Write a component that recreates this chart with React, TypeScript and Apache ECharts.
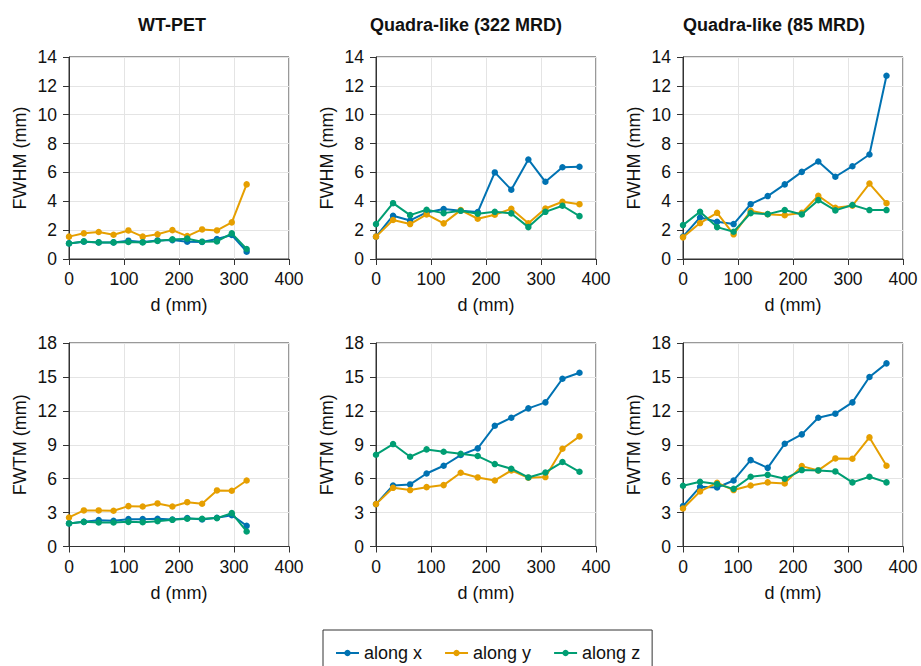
import React, { useEffect, useRef } from "react";
import * as echarts from "echarts";

// distances along the axis (mm)
const dWT = [0, 27, 54, 81, 108, 134, 161, 188, 215, 242, 269, 296, 323];
const dQ = [0, 31, 62, 92, 123, 154, 185, 216, 246, 277, 308, 339, 370];

const xTicks = [0, 100, 200, 300, 400];
const fwhmTicks = [0, 2, 4, 6, 8, 10, 12, 14];
const fwtmTicks = [0, 3, 6, 9, 12, 15, 18];

const panelTitles = ["WT-PET", "Quadra-like (322 MRD)", "Quadra-like (85 MRD)"];
const seriesNames = ["along x", "along y", "along z"];

// FWHM, WT-PET
const fwhmWT_x = [1.08, 1.2, 1.15, 1.15, 1.27, 1.18, 1.29, 1.31, 1.2, 1.18, 1.38, 1.66, 0.51];
const fwhmWT_y = [1.55, 1.78, 1.87, 1.68, 1.98, 1.55, 1.71, 2.0, 1.59, 2.05, 1.98, 2.54, 5.17];
const fwhmWT_z = [1.08, 1.22, 1.15, 1.15, 1.18, 1.15, 1.25, 1.36, 1.41, 1.2, 1.22, 1.78, 0.69];

// FWHM, Quadra-like 322 MRD
const fwhmQ322_x = [1.55, 3.0, 2.67, 3.23, 3.46, 3.34, 3.25, 6.0, 4.8, 6.9, 5.35, 6.36, 6.39];
const fwhmQ322_y = [1.55, 2.7, 2.42, 3.09, 2.47, 3.39, 2.79, 3.07, 3.48, 2.47, 3.5, 3.97, 3.8];
const fwhmQ322_z = [2.42, 3.87, 3.04, 3.41, 3.18, 3.34, 3.14, 3.27, 3.16, 2.21, 3.27, 3.69, 2.97];

// FWHM, Quadra-like 85 MRD
const fwhmQ85_x = [1.55, 2.88, 2.58, 2.42, 3.8, 4.36, 5.17, 6.04, 6.76, 5.7, 6.43, 7.24, 12.7];
const fwhmQ85_y = [1.5, 2.49, 3.2, 1.71, 3.34, 3.11, 3.04, 3.2, 4.38, 3.55, 3.69, 5.23, 3.87];
const fwhmQ85_z = [2.35, 3.27, 2.21, 1.89, 3.18, 3.11, 3.39, 3.09, 4.08, 3.37, 3.74, 3.39, 3.39];

// FWTM, WT-PET
const fwtmWT_x = [2.04, 2.18, 2.33, 2.27, 2.42, 2.42, 2.45, 2.39, 2.51, 2.39, 2.54, 2.77, 1.83];
const fwtmWT_y = [2.57, 3.19, 3.19, 3.16, 3.57, 3.54, 3.81, 3.54, 3.92, 3.78, 4.96, 4.93, 5.84];
const fwtmWT_z = [2.04, 2.18, 2.12, 2.12, 2.18, 2.15, 2.24, 2.36, 2.45, 2.45, 2.51, 2.95, 1.33];

// FWTM, Quadra-like 322 MRD
const fwtmQ322_x = [3.75, 5.4, 5.49, 6.46, 7.14, 8.09, 8.68, 10.68, 11.39, 12.22, 12.75, 14.84, 15.37];
const fwtmQ322_y = [3.75, 5.19, 4.99, 5.25, 5.43, 6.52, 6.11, 5.84, 6.73, 6.08, 6.14, 8.65, 9.74];
const fwtmQ322_z = [8.12, 9.06, 7.94, 8.59, 8.38, 8.2, 8.0, 7.29, 6.88, 6.11, 6.55, 7.47, 6.61];

// FWTM, Quadra-like 85 MRD
const fwtmQ85_x = [3.57, 5.28, 5.22, 5.84, 7.64, 6.96, 9.09, 9.92, 11.39, 11.75, 12.75, 14.99, 16.2];
const fwtmQ85_y = [3.36, 4.87, 5.64, 4.99, 5.4, 5.67, 5.58, 7.11, 6.73, 7.79, 7.76, 9.65, 7.14];
const fwtmQ85_z = [5.37, 5.72, 5.52, 5.1, 6.17, 6.34, 5.99, 6.76, 6.73, 6.64, 5.67, 6.17, 5.67];

const COLORS = ["#0072B2", "#E69F00", "#009E73"];
const FONT = "'Liberation Sans', Arial, Helvetica, sans-serif";

const panels = [
  { d: dWT, vals: [fwhmWT_x, fwhmWT_y, fwhmWT_z], row: 0, col: 0 },
  { d: dQ, vals: [fwhmQ322_x, fwhmQ322_y, fwhmQ322_z], row: 0, col: 1 },
  { d: dQ, vals: [fwhmQ85_x, fwhmQ85_y, fwhmQ85_z], row: 0, col: 2 },
  { d: dWT, vals: [fwtmWT_x, fwtmWT_y, fwtmWT_z], row: 1, col: 0 },
  { d: dQ, vals: [fwtmQ322_x, fwtmQ322_y, fwtmQ322_z], row: 1, col: 1 },
  { d: dQ, vals: [fwtmQ85_x, fwtmQ85_y, fwtmQ85_z], row: 1, col: 2 },
];

const colLeft = [69, 376, 683];
const rowTop = [57, 343];
const rowHeight = [202, 203.5];
const gridWidth = 220;
const titleCenters = [172, 466, 774];

export default function App() {
  const ref = useRef<HTMLDivElement>(null);
  useEffect(() => {
    if (!ref.current) return;
    const chart = echarts.init(ref.current, null, { renderer: "svg" });

    const grids = panels.map((p) => ({
      left: colLeft[p.col],
      top: rowTop[p.row],
      width: gridWidth,
      height: rowHeight[p.row],
      show: true,
      borderColor: "#333",
      borderWidth: 1,
      backgroundColor: "transparent",
    }));

    const xAxes = panels.map((p, i) => ({
      type: "value",
      gridIndex: i,
      min: xTicks[0],
      max: xTicks[xTicks.length - 1],
      interval: xTicks[1] - xTicks[0],
      name: "d (mm)",
      nameLocation: "middle",
      nameGap: 37,
      nameTextStyle: { fontSize: 18, color: "#111", fontFamily: FONT },
      axisLine: { show: true, lineStyle: { color: "#333", width: 1 } },
      axisTick: { show: true, length: 6, inside: false, lineStyle: { color: "#333" } },
      axisLabel: { fontSize: 17.5, color: "#111", margin: 11, fontFamily: FONT },
      splitLine: { show: true, lineStyle: { color: "#e4e4e4", width: 1 } },
    }));

    const yAxes = panels.map((p, i) => {
      const ticks = p.row === 0 ? fwhmTicks : fwtmTicks;
      return {
        type: "value",
        gridIndex: i,
        min: ticks[0],
        max: ticks[ticks.length - 1],
        interval: ticks[1] - ticks[0],
        name: p.row === 0 ? "FWHM (mm)" : "FWTM (mm)",
        nameLocation: "middle",
        nameGap: 40,
        nameTextStyle: { fontSize: 18, color: "#111", fontFamily: FONT },
        axisLine: { show: true, lineStyle: { color: "#333", width: 1 } },
        axisTick: { show: true, length: 6, inside: false, lineStyle: { color: "#333" } },
        axisLabel: { fontSize: 17.5, color: "#111", margin: 12, fontFamily: FONT },
        splitLine: { show: true, lineStyle: { color: "#e4e4e4", width: 1 } },
      };
    });

    const series: any[] = [];
    panels.forEach((p, i) => {
      p.vals.forEach((vals, k) => {
        series.push({
          type: "line",
          name: seriesNames[k],
          xAxisIndex: i,
          yAxisIndex: i,
          data: p.d.map((d, j) => [d, vals[j]]),
          symbol: "circle",
          symbolSize: 6.5,
          color: COLORS[k],
          lineStyle: { width: 2, color: COLORS[k] },
          itemStyle: { color: COLORS[k] },
          z: 2 + k,
        });
      });
    });

    const graphics = panelTitles.map((t, i) => ({
      type: "text",
      x: titleCenters[i],
      y: 25,
      style: {
        text: t,
        fontSize: 18,
        fontWeight: "bold",
        fontFamily: FONT,
        fill: "#111",
        textAlign: "center",
        textVerticalAlign: "middle",
      },
    }));

    chart.setOption({
      animation: false,
      backgroundColor: "#fff",
      grid: grids,
      xAxis: xAxes,
      yAxis: yAxes,
      series,
      graphic: graphics,
      legend: {
        data: seriesNames,
        left: 323,
        top: 630,
        orient: "horizontal",
        itemGap: 22,
        itemWidth: 23,
        itemHeight: 8,
        padding: [14, 12, 14, 12],
        borderColor: "#333",
        borderWidth: 1,
        textStyle: { fontSize: 18, color: "#111", fontFamily: FONT },
      },
    });

    return () => chart.dispose();
  }, []);

  return (
    <div
      ref={ref}
      style={{ position: "fixed", left: 0, top: 0, width: 921, height: 666 }}
    />
  );
}
